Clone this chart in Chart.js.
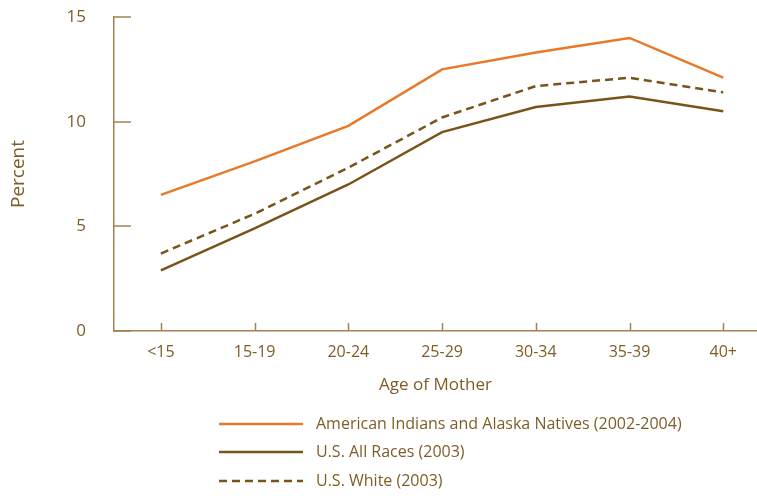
<!DOCTYPE html>
<html>
<head>
<meta charset="utf-8">
<script src="https://cdn.jsdelivr.net/npm/chart.js@4"></script>
<style>
html,body{margin:0;padding:0;background:#fff;}
#wrap{width:757px;height:496px;position:relative;}
</style>
</head>
<body>
<div id="wrap"><canvas id="c" width="757" height="496"></canvas></div>
<script>
const categories = ['<15','15-19','20-24','25-29','30-34','35-39','40+'];
const aian = [6.5, 8.1, 9.8, 12.5, 13.3, 14.0, 12.1];
const allRaces = [2.9, 4.9, 7.0, 9.5, 10.7, 11.2, 10.5];
const white = [3.7, 5.6, 7.8, 10.2, 11.7, 12.1, 11.4];
const yTicks = [0, 5, 10, 15];
const seriesNames = ['American Indians and Alaska Natives (2002-2004)','U.S. All Races (2003)','U.S. White (2003)'];

const ORANGE = '#E8782A';
const BROWN = '#785419';
const AXIS = '#A2834F';
const TEXT = '#7E5D28';
const FONT = "'Open Sans', 'Noto Sans', sans-serif";

const toPts = arr => arr.map((v,i)=>({x:i,y:v}));

const inwardTicks = {
  id:'inwardTicks',
  afterDraw(chart){
    const ctx = chart.ctx, x = chart.scales.x, y = chart.scales.y;
    ctx.save();
    ctx.strokeStyle = AXIS; ctx.lineWidth = 1.5;
    categories.forEach((c,i)=>{
      const px = Math.round(x.getPixelForValue(i))+0.5;
      ctx.beginPath(); ctx.moveTo(px, y.bottom); ctx.lineTo(px, y.bottom-8); ctx.stroke();
    });
    yTicks.forEach(t=>{
      const py = Math.round(y.getPixelForValue(t));
      ctx.beginPath(); ctx.moveTo(x.left, py); ctx.lineTo(x.left+17, py); ctx.stroke();
    });
    ctx.restore();
  }
};

const customLegend = {
  id:'customLegend',
  afterDraw(chart){
    const ctx = chart.ctx;
    ctx.save();
    const rows = [424, 452, 481];
    chart.data.datasets.forEach((ds,i)=>{
      const yy = rows[i];
      ctx.strokeStyle = ds.borderColor; ctx.lineWidth = 2.5;
      ctx.setLineDash(ds.borderDash || []);
      ctx.beginPath(); ctx.moveTo(219, yy); ctx.lineTo(303, yy); ctx.stroke();
      ctx.setLineDash([]);
      ctx.fillStyle = TEXT; ctx.font = "16px " + FONT;
      ctx.textBaseline = 'middle'; ctx.textAlign = 'left';
      ctx.fillText(ds.label, 316, yy);
    });
    ctx.restore();
  }
};

new Chart(document.getElementById('c'), {
  type:'line',
  data:{
    datasets:[
      {label:seriesNames[0], data:toPts(aian), borderColor:ORANGE, borderWidth:2.5, pointRadius:0, tension:0, fill:false},
      {label:seriesNames[1], data:toPts(allRaces), borderColor:BROWN, borderWidth:2.5, pointRadius:0, tension:0, fill:false},
      {label:seriesNames[2], data:toPts(white), borderColor:BROWN, borderWidth:2.5, borderDash:[8,5], pointRadius:0, tension:0, fill:false}
    ]
  },
  options:{
    responsive:false,
    animation:false,
    layout:{padding:{left:0,right:0,top:17,bottom:101}},
    plugins:{legend:{display:false}, tooltip:{enabled:false}},
    scales:{
      x:{
        type:'linear', min:-0.5, max:6.36,
        afterBuildTicks(s){ s.ticks = categories.map((c,i)=>({value:i})); },
        afterFit(s){ s.height = 64; s.paddingLeft = 0; s.paddingRight = 0; },
        grid:{display:true, drawOnChartArea:false, drawTicks:false, color:AXIS},
        border:{display:true, color:AXIS, width:1.5},
        ticks:{padding:12, color:TEXT, font:{family:FONT, size:16}, callback:(v)=>categories[v], autoSkip:false, maxRotation:0},
        title:{display:true, text:'Age of Mother', color:TEXT, font:{family:FONT, size:17}, padding:{top:0,bottom:0}}
      },
      y:{
        min:0, max:15,
        afterBuildTicks(s){ s.ticks = yTicks.map(v=>({value:v})); },
        afterFit(s){ s.width = 114; s.paddingTop = 0; s.paddingBottom = 0; },
        grid:{display:false, drawTicks:false},
        border:{display:true, color:AXIS, width:1.5},
        ticks:{padding:28, color:TEXT, font:{family:FONT, size:17}},
        title:{display:true, text:'Percent', color:TEXT, font:{family:FONT, size:19}, padding:{top:7,bottom:0}}
      }
    }
  },
  plugins:[inwardTicks, customLegend]
});
</script>
</body>
</html>
